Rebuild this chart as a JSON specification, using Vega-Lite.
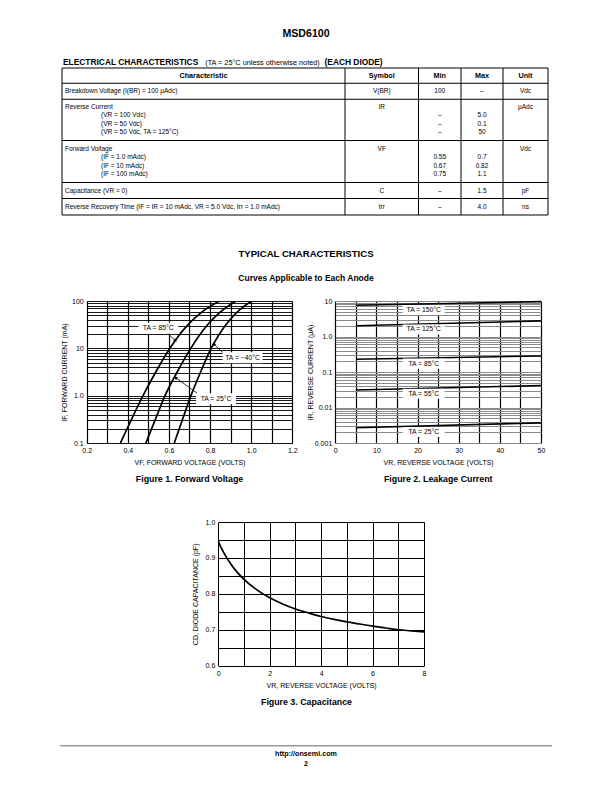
{
"$schema": "https://vega.github.io/schema/vega-lite/v6.json",
"autosize": {"type": "none"},
"padding": {"left": 0, "top": 0, "right": 612, "bottom": 792},
"background": "white",
"config": {
  "view": {"stroke": null},
  "font": "Liberation Sans",
  "text": {"color": "black", "font": "Liberation Sans"},
  "axis": {
    "domain": false, "ticks": false,
    "labelFont": "Liberation Sans Narrow, Arial Narrow, Liberation Sans, sans-serif", "labelFontSize": 7, "labelColor": "black",
    "titleFont": "Liberation Sans Narrow, Arial Narrow, Liberation Sans, sans-serif", "titleFontSize": 7, "titleFontWeight": "normal", "titleColor": "black",
    "gridOpacity": 1, "labelOverlap": false, "labelFlush": false, "labelBound": false,
    "labelPadding": 3.5, "titlePadding": 5
  }
},
"datasets": {
  "table": [
    {"col": "Characteristic", "kind": "head", "line": 0.93, "text": "Characteristic"},
    {"col": "Symbol", "kind": "head", "line": 0.93, "text": "Symbol"},
    {"col": "Min", "kind": "head", "line": 0.93, "text": "Min"},
    {"col": "Max", "kind": "head", "line": 0.93, "text": "Max"},
    {"col": "Unit", "kind": "head", "line": 0.93, "text": "Unit"},
    {"col": "Characteristic", "kind": "main", "line": 2.85, "text": "Breakdown Voltage (I(BR) = 100 μAdc)"},
    {"col": "Symbol", "kind": "main", "line": 2.85, "text": "V(BR)"},
    {"col": "Min", "kind": "main", "line": 2.85, "text": "100"},
    {"col": "Max", "kind": "main", "line": 2.85, "text": "–"},
    {"col": "Unit", "kind": "main", "line": 2.85, "text": "Vdc"},
    {"col": "Characteristic", "kind": "main", "line": 4.77, "text": "Reverse Current"},
    {"col": "Characteristic", "kind": "sub", "line": 5.8, "text": "(VR = 100 Vdc)"},
    {"col": "Characteristic", "kind": "sub", "line": 6.8, "text": "(VR = 50 Vdc)"},
    {"col": "Characteristic", "kind": "sub", "line": 7.8, "text": "(VR = 50 Vdc, TA = 125°C)"},
    {"col": "Symbol", "kind": "main", "line": 4.77, "text": "IR"},
    {"col": "Min", "kind": "main", "line": 5.8, "text": "–"},
    {"col": "Min", "kind": "main", "line": 6.8, "text": "–"},
    {"col": "Min", "kind": "main", "line": 7.8, "text": "–"},
    {"col": "Max", "kind": "main", "line": 5.8, "text": "5.0"},
    {"col": "Max", "kind": "main", "line": 6.8, "text": "0.1"},
    {"col": "Max", "kind": "main", "line": 7.8, "text": "50"},
    {"col": "Unit", "kind": "main", "line": 4.77, "text": "μAdc"},
    {"col": "Characteristic", "kind": "main", "line": 9.91, "text": "Forward Voltage"},
    {"col": "Characteristic", "kind": "sub", "line": 10.95, "text": "(IF = 1.0 mAdc)"},
    {"col": "Characteristic", "kind": "sub", "line": 11.95, "text": "(IF = 10 mAdc)"},
    {"col": "Characteristic", "kind": "sub", "line": 12.95, "text": "(IF = 100 mAdc)"},
    {"col": "Symbol", "kind": "main", "line": 9.91, "text": "VF"},
    {"col": "Min", "kind": "main", "line": 10.95, "text": "0.55"},
    {"col": "Min", "kind": "main", "line": 11.95, "text": "0.67"},
    {"col": "Min", "kind": "main", "line": 12.95, "text": "0.75"},
    {"col": "Max", "kind": "main", "line": 10.95, "text": "0.7"},
    {"col": "Max", "kind": "main", "line": 11.95, "text": "0.82"},
    {"col": "Max", "kind": "main", "line": 12.95, "text": "1.1"},
    {"col": "Unit", "kind": "main", "line": 9.91, "text": "Vdc"},
    {"col": "Characteristic", "kind": "main", "line": 15.02, "text": "Capacitance (VR = 0)"},
    {"col": "Symbol", "kind": "main", "line": 15.02, "text": "C"},
    {"col": "Min", "kind": "main", "line": 15.02, "text": "–"},
    {"col": "Max", "kind": "main", "line": 15.02, "text": "1.5"},
    {"col": "Unit", "kind": "main", "line": 15.02, "text": "pF"},
    {"col": "Characteristic", "kind": "main", "line": 17.0, "text": "Reverse Recovery Time (IF = IR = 10 mAdc, VR = 5.0 Vdc, Irr = 1.0 mAdc)"},
    {"col": "Symbol", "kind": "main", "line": 17.0, "text": "trr"},
    {"col": "Min", "kind": "main", "line": 17.0, "text": "–"},
    {"col": "Max", "kind": "main", "line": 17.0, "text": "4.0"},
    {"col": "Unit", "kind": "main", "line": 17.0, "text": "ns"}
  ],
  "rowlines": [{"line": 0}, {"line": 1.87}, {"line": 3.83}, {"line": 8.88}, {"line": 14.02}, {"line": 15.98}, {"line": 18}],
  "fig1": [
    {"temp": "85", "v": 0.364, "i": 0.1}, {"temp": "85", "v": 0.418, "i": 0.316}, {"temp": "85", "v": 0.474, "i": 1}, {"temp": "85", "v": 0.536, "i": 3.16}, {"temp": "85", "v": 0.605, "i": 10}, {"temp": "85", "v": 0.645, "i": 17.8}, {"temp": "85", "v": 0.693, "i": 31.6}, {"temp": "85", "v": 0.755, "i": 56.2}, {"temp": "85", "v": 0.845, "i": 100},
    {"temp": "25", "v": 0.488, "i": 0.1}, {"temp": "25", "v": 0.534, "i": 0.316}, {"temp": "25", "v": 0.581, "i": 1}, {"temp": "25", "v": 0.64, "i": 3.16}, {"temp": "25", "v": 0.706, "i": 10}, {"temp": "25", "v": 0.744, "i": 17.8}, {"temp": "25", "v": 0.788, "i": 31.6}, {"temp": "25", "v": 0.845, "i": 56.2}, {"temp": "25", "v": 0.926, "i": 100},
    {"temp": "-40", "v": 0.626, "i": 0.1}, {"temp": "-40", "v": 0.666, "i": 0.316}, {"temp": "-40", "v": 0.707, "i": 1}, {"temp": "-40", "v": 0.754, "i": 3.16}, {"temp": "-40", "v": 0.805, "i": 10}, {"temp": "-40", "v": 0.838, "i": 17.8}, {"temp": "-40", "v": 0.877, "i": 31.6}, {"temp": "-40", "v": 0.928, "i": 56.2}, {"temp": "-40", "v": 1.002, "i": 100}
  ],
  "fig1labels": [
    {"label": "TA = 85°C", "v": 0.548, "i": 26.7},
    {"label": "TA = −40°C", "v": 0.958, "i": 6.3},
    {"label": "TA = 25°C", "v": 0.829, "i": 0.865}
  ],
  "fig1arrows": [
    {"arrow": "85", "end": "tail", "v": 0.592, "i": 21}, {"arrow": "85", "end": "tip", "v": 0.632, "i": 14.5},
    {"arrow": "-40", "end": "tail", "v": 0.864, "i": 8.0}, {"arrow": "-40", "end": "tip", "v": 0.818, "i": 12.3},
    {"arrow": "25", "end": "tail", "v": 0.738, "i": 1.12}, {"arrow": "25", "end": "tip", "v": 0.633, "i": 2.4}
  ],
  "fig2": [
    {"temp": "150", "v": 5, "i": 7.6}, {"temp": "150", "v": 50, "i": 9.6},
    {"temp": "125", "v": 5, "i": 2.0}, {"temp": "125", "v": 50, "i": 2.75},
    {"temp": "85", "v": 5, "i": 0.228}, {"temp": "85", "v": 50, "i": 0.283},
    {"temp": "55", "v": 5, "i": 0.031}, {"temp": "55", "v": 50, "i": 0.0415},
    {"temp": "25", "v": 5, "i": 0.0027}, {"temp": "25", "v": 50, "i": 0.0037}
  ],
  "fig2labels": [
    {"label": "TA = 150°C", "v": 21.5, "i": 5.6},
    {"label": "TA = 125°C", "v": 21.5, "i": 1.58},
    {"label": "TA = 85°C", "v": 21.5, "i": 0.172},
    {"label": "TA = 55°C", "v": 21.5, "i": 0.0245},
    {"label": "TA = 25°C", "v": 21.5, "i": 0.00204}
  ],
  "fig3": [
    {"v": 0, "c": 0.946}, {"v": 0.1, "c": 0.93}, {"v": 0.25, "c": 0.91}, {"v": 0.5, "c": 0.882}, {"v": 0.75, "c": 0.859}, {"v": 1, "c": 0.84}, {"v": 1.5, "c": 0.811}, {"v": 2, "c": 0.789}, {"v": 2.5, "c": 0.772}, {"v": 3, "c": 0.758}, {"v": 3.5, "c": 0.747}, {"v": 4, "c": 0.737}, {"v": 4.5, "c": 0.729}, {"v": 5, "c": 0.722}, {"v": 5.5, "c": 0.716}, {"v": 6, "c": 0.71}, {"v": 6.5, "c": 0.705}, {"v": 7, "c": 0.7}, {"v": 7.5, "c": 0.697}, {"v": 8, "c": 0.694}
  ]
},
"bounds": "flush",
"spacing": 0,
"vconcat": [
  {"width": 612, "height": 68,
   "layer": [
     {"data": {"values": [{"t": "MSD6100"}]}, "mark": {"type": "text", "fontSize": 10.6, "fontWeight": "bold", "dy": 0}, "encoding": {"text": {"field": "t"}}},
     {"data": {"values": [{"t": "ELECTRICAL CHARACTERISTICS"}]}, "mark": {"type": "text", "fontSize": 8.4, "fontWeight": "bold", "align": "left", "baseline": "alphabetic", "dy": 30.7}, "encoding": {"x": {"datum": 0, "type": "quantitative", "scale": {"domain": [0, 1], "range": [63, 548]}, "axis": null}, "text": {"field": "t"}}},
     {"data": {"values": [{"t": "(TA = 25°C unless otherwise noted)"}]}, "mark": {"type": "text", "fontSize": 7.3, "align": "left", "baseline": "alphabetic", "dx": 142.2, "dy": 30.7}, "encoding": {"x": {"datum": 0, "type": "quantitative", "axis": null}, "text": {"field": "t"}}},
     {"data": {"values": [{"t": "(EACH DIODE)"}]}, "mark": {"type": "text", "fontSize": 8.4, "fontWeight": "bold", "align": "left", "baseline": "alphabetic", "dx": 261.5, "dy": 30.7}, "encoding": {"x": {"datum": 0, "type": "quantitative", "axis": null}, "text": {"field": "t"}}}
   ]},

  {"width": 612, "height": 147,
   "resolve": {"scale": {"x": "independent"}},
   "layer": [
     {"data": {"name": "rowlines"}, "mark": {"type": "rule", "color": "black", "strokeWidth": 1},
      "encoding": {"x": {"datum": 0, "type": "quantitative", "scale": {"domain": [0, 1], "range": [62, 548]}, "axis": null}, "x2": {"datum": 1},
                   "y": {"field": "line", "type": "quantitative", "scale": {"domain": [0, 18], "reverse": true, "nice": false, "zero": false}, "axis": null}}},
     {"encoding": {"x": {"datum": 0, "type": "quantitative", "scale": {"domain": [0, 1], "range": [62, 345]}, "axis": null}},
      "layer": [
        {"data": {"values": [{}]}, "mark": {"type": "rule", "color": "black", "strokeWidth": 1}, "encoding": {"y": {"datum": 0, "type": "quantitative", "axis": null}, "y2": {"datum": 18}}},
        {"data": {"name": "table"}, "transform": [{"filter": "datum.col == 'Characteristic' && datum.kind == 'head'"}], "mark": {"type": "text", "fontSize": 7.2, "fontWeight": "bold"}, "encoding": {"x": {"datum": 0.5, "type": "quantitative", "axis": null}, "y": {"field": "line", "type": "quantitative", "axis": null}, "text": {"field": "text"}}},
        {"data": {"name": "table"}, "transform": [{"filter": "datum.col == 'Characteristic' && datum.kind == 'main'"}], "mark": {"type": "text", "fontSize": 6.5, "align": "left", "dx": 3}, "encoding": {"y": {"field": "line", "type": "quantitative", "axis": null}, "text": {"field": "text"}}},
        {"data": {"name": "table"}, "transform": [{"filter": "datum.col == 'Characteristic' && datum.kind == 'sub'"}], "mark": {"type": "text", "fontSize": 6.5, "align": "left", "dx": 39}, "encoding": {"y": {"field": "line", "type": "quantitative", "axis": null}, "text": {"field": "text"}}}
      ]},
     {"encoding": {"x": {"datum": 0, "type": "quantitative", "scale": {"domain": [0, 1], "range": [345, 418.5]}, "axis": null}},
      "layer": [
        {"data": {"values": [{}]}, "mark": {"type": "rule", "color": "black", "strokeWidth": 1}, "encoding": {"y": {"datum": 0, "type": "quantitative", "axis": null}, "y2": {"datum": 18}}},
        {"data": {"name": "table"}, "transform": [{"filter": "datum.col == 'Symbol' && datum.kind == 'head'"}], "mark": {"type": "text", "fontSize": 7.2, "fontWeight": "bold"}, "encoding": {"x": {"datum": 0.5, "type": "quantitative", "axis": null}, "y": {"field": "line", "type": "quantitative", "axis": null}, "text": {"field": "text"}}},
        {"data": {"name": "table"}, "transform": [{"filter": "datum.col == 'Symbol' && datum.kind != 'head'"}], "mark": {"type": "text", "fontSize": 6.5}, "encoding": {"x": {"datum": 0.5, "type": "quantitative", "axis": null}, "y": {"field": "line", "type": "quantitative", "axis": null}, "text": {"field": "text"}}}
      ]},
     {"encoding": {"x": {"datum": 0, "type": "quantitative", "scale": {"domain": [0, 1], "range": [418.5, 461]}, "axis": null}},
      "layer": [
        {"data": {"values": [{}]}, "mark": {"type": "rule", "color": "black", "strokeWidth": 1}, "encoding": {"y": {"datum": 0, "type": "quantitative", "axis": null}, "y2": {"datum": 18}}},
        {"data": {"name": "table"}, "transform": [{"filter": "datum.col == 'Min' && datum.kind == 'head'"}], "mark": {"type": "text", "fontSize": 7.2, "fontWeight": "bold"}, "encoding": {"x": {"datum": 0.5, "type": "quantitative", "axis": null}, "y": {"field": "line", "type": "quantitative", "axis": null}, "text": {"field": "text"}}},
        {"data": {"name": "table"}, "transform": [{"filter": "datum.col == 'Min' && datum.kind != 'head'"}], "mark": {"type": "text", "fontSize": 6.5}, "encoding": {"x": {"datum": 0.5, "type": "quantitative", "axis": null}, "y": {"field": "line", "type": "quantitative", "axis": null}, "text": {"field": "text"}}}
      ]},
     {"encoding": {"x": {"datum": 0, "type": "quantitative", "scale": {"domain": [0, 1], "range": [461, 503]}, "axis": null}},
      "layer": [
        {"data": {"values": [{}]}, "mark": {"type": "rule", "color": "black", "strokeWidth": 1}, "encoding": {"y": {"datum": 0, "type": "quantitative", "axis": null}, "y2": {"datum": 18}}},
        {"data": {"name": "table"}, "transform": [{"filter": "datum.col == 'Max' && datum.kind == 'head'"}], "mark": {"type": "text", "fontSize": 7.2, "fontWeight": "bold"}, "encoding": {"x": {"datum": 0.5, "type": "quantitative", "axis": null}, "y": {"field": "line", "type": "quantitative", "axis": null}, "text": {"field": "text"}}},
        {"data": {"name": "table"}, "transform": [{"filter": "datum.col == 'Max' && datum.kind != 'head'"}], "mark": {"type": "text", "fontSize": 6.5}, "encoding": {"x": {"datum": 0.5, "type": "quantitative", "axis": null}, "y": {"field": "line", "type": "quantitative", "axis": null}, "text": {"field": "text"}}}
      ]},
     {"encoding": {"x": {"datum": 0, "type": "quantitative", "scale": {"domain": [0, 1], "range": [503, 548]}, "axis": null}},
      "layer": [
        {"data": {"values": [{}]}, "mark": {"type": "rule", "color": "black", "strokeWidth": 1}, "encoding": {"y": {"datum": 0, "type": "quantitative", "axis": null}, "y2": {"datum": 18}}},
        {"data": {"values": [{}]}, "mark": {"type": "rule", "color": "black", "strokeWidth": 1}, "encoding": {"x": {"datum": 1, "type": "quantitative", "axis": null}, "y": {"datum": 0, "type": "quantitative", "axis": null}, "y2": {"datum": 18}}},
        {"data": {"name": "table"}, "transform": [{"filter": "datum.col == 'Unit' && datum.kind == 'head'"}], "mark": {"type": "text", "fontSize": 7.2, "fontWeight": "bold"}, "encoding": {"x": {"datum": 0.5, "type": "quantitative", "axis": null}, "y": {"field": "line", "type": "quantitative", "axis": null}, "text": {"field": "text"}}},
        {"data": {"name": "table"}, "transform": [{"filter": "datum.col == 'Unit' && datum.kind != 'head'"}], "mark": {"type": "text", "fontSize": 6.5}, "encoding": {"x": {"datum": 0.5, "type": "quantitative", "axis": null}, "y": {"field": "line", "type": "quantitative", "axis": null}, "text": {"field": "text"}}}
      ]}
   ]},

  {"width": 612, "height": 86,
   "layer": [
     {"data": {"values": [{"t": "TYPICAL CHARACTERISTICS"}]}, "mark": {"type": "text", "fontSize": 9.6, "fontWeight": "bold", "dy": -4}, "encoding": {"text": {"field": "t"}}},
     {"data": {"values": [{"t": "Curves Applicable to Each Anode"}]}, "mark": {"type": "text", "fontSize": 8.5, "fontWeight": "bold", "dy": 19.7}, "encoding": {"text": {"field": "t"}}}
   ]},

  {"width": 612, "height": 142,
   "resolve": {"scale": {"x": "independent", "y": "independent"}, "axis": {"x": "independent", "y": "independent"}},
   "layer": [
     {"encoding": {
        "x": {"field": "v", "type": "quantitative", "scale": {"domain": [0.2, 1.2], "range": [86.7, 292.3], "nice": false, "zero": false},
              "axis": {"orient": "bottom", "values": [0.2, 0.3, 0.4, 0.5, 0.6, 0.7, 0.8, 0.9, 1.0, 1.1, 1.2], "labelExpr": "round(datum.value*10) % 2 == 0 ? format(datum.value, '.1f') : ''", "grid": true, "gridColor": "black", "gridWidth": 1.2, "title": "VF, FORWARD VOLTAGE (VOLTS)"}},
        "y": {"field": "i", "type": "quantitative", "scale": {"type": "log", "domain": [0.1, 100], "nice": false},
              "axis": {"orient": "left", "offset": -86.7, "values": [0.1, 0.2, 0.3, 0.4, 0.5, 0.6, 0.7, 0.8, 0.9, 1, 2, 3, 4, 5, 6, 7, 8, 9, 10, 20, 30, 40, 50, 60, 70, 80, 90, 100], "labelExpr": "datum.value == 0.1 ? '0.1' : datum.value == 1 ? '1.0' : datum.value == 10 ? '10' : datum.value == 100 ? '100' : ''", "grid": true, "gridColor": "black", "gridWidth": 0.9, "title": "IF, FORWARD CURRENT (mA)", "titlePadding": 4}}
      },
      "layer": [
        {"data": {"name": "fig1"}, "mark": {"type": "line", "color": "black", "strokeWidth": 1.7, "interpolate": "monotone", "clip": true}, "encoding": {"detail": {"field": "temp"}}},
        {"data": {"name": "fig1arrows"}, "mark": {"type": "line", "color": "black", "strokeWidth": 0.8}, "encoding": {"detail": {"field": "arrow"}}},
        {"data": {"name": "fig1arrows"}, "transform": [{"filter": "datum.arrow == '85' && datum.end == 'tip'"}], "mark": {"type": "point", "shape": "triangle-up", "angle": 131, "size": 14, "filled": true, "color": "black", "opacity": 1}},
        {"data": {"name": "fig1arrows"}, "transform": [{"filter": "datum.arrow == '-40' && datum.end == 'tip'"}], "mark": {"type": "point", "shape": "triangle-up", "angle": 315, "size": 14, "filled": true, "color": "black", "opacity": 1}},
        {"data": {"name": "fig1arrows"}, "transform": [{"filter": "datum.arrow == '25' && datum.end == 'tip'"}], "mark": {"type": "point", "shape": "triangle-up", "angle": 305, "size": 14, "filled": true, "color": "black", "opacity": 1}},
        {"data": {"name": "fig1labels"}, "mark": {"type": "point", "shape": "M-1,-0.275H1V0.275H-1Z", "size": 1600, "filled": true, "color": "white", "opacity": 1}},
        {"data": {"name": "fig1labels"}, "mark": {"type": "text", "font": "Liberation Sans Narrow, Arial Narrow, Liberation Sans, sans-serif", "fontSize": 6.8}, "encoding": {"text": {"field": "label"}}},
        {"data": {"values": [{}]}, "mark": {"type": "rule", "color": "black", "strokeWidth": 1.5, "strokeCap": "square"}, "encoding": {"x": {"datum": 0.2}, "y": {"datum": 0.1}, "y2": {"datum": 100}}},
        {"data": {"values": [{}]}, "mark": {"type": "rule", "color": "black", "strokeWidth": 1.5, "strokeCap": "square"}, "encoding": {"x": {"datum": 1.2}, "y": {"datum": 0.1}, "y2": {"datum": 100}}},
        {"data": {"values": [{}]}, "mark": {"type": "rule", "color": "black", "strokeWidth": 1.5, "strokeCap": "square"}, "encoding": {"x": {"datum": 0.2}, "x2": {"datum": 1.2}, "y": {"datum": 0.1}}},
        {"data": {"values": [{}]}, "mark": {"type": "rule", "color": "black", "strokeWidth": 1.5, "strokeCap": "square"}, "encoding": {"x": {"datum": 0.2}, "x2": {"datum": 1.2}, "y": {"datum": 100}}}
      ]},
     {"encoding": {
        "x": {"field": "v", "type": "quantitative", "scale": {"domain": [0, 50], "range": [335.3, 541], "nice": false},
              "axis": {"orient": "bottom", "values": [0, 5, 10, 15, 20, 25, 30, 35, 40, 45, 50], "labelExpr": "datum.value % 10 == 0 ? format(datum.value, 'd') : ''", "grid": true, "gridColor": "black", "gridWidth": 1.2, "title": "VR, REVERSE VOLTAGE (VOLTS)"}},
        "y": {"field": "i", "type": "quantitative", "scale": {"type": "log", "domain": [0.001, 10], "nice": false},
              "axis": {"orient": "left", "offset": -335.3, "values": [0.001, 0.002, 0.003, 0.004, 0.005, 0.006, 0.007, 0.008, 0.009, 0.01, 0.02, 0.03, 0.04, 0.05, 0.06, 0.07, 0.08, 0.09, 0.1, 0.2, 0.3, 0.4, 0.5, 0.6, 0.7, 0.8, 0.9, 1, 2, 3, 4, 5, 6, 7, 8, 9, 10], "labelExpr": "datum.value == 0.001 ? '0.001' : datum.value == 0.01 ? '0.01' : datum.value == 0.1 ? '0.1' : datum.value == 1 ? '1.0' : datum.value == 10 ? '10' : ''", "grid": true, "gridColor": "#8a8a8a", "gridWidth": 1, "title": "IR, REVERSE CURRENT (μA)", "titlePadding": 1}}
      },
      "layer": [
        {"data": {"name": "fig2"}, "mark": {"type": "line", "color": "black", "strokeWidth": 1.6}, "encoding": {"detail": {"field": "temp"}}},
        {"data": {"name": "fig2labels"}, "mark": {"type": "point", "shape": "M-1,-0.24H1V0.24H-1Z", "size": 1764, "filled": true, "color": "white", "opacity": 1}},
        {"data": {"name": "fig2labels"}, "mark": {"type": "text", "font": "Liberation Sans Narrow, Arial Narrow, Liberation Sans, sans-serif", "fontSize": 6.8}, "encoding": {"text": {"field": "label"}}},
        {"data": {"values": [{}]}, "mark": {"type": "rule", "color": "black", "strokeWidth": 1.5, "strokeCap": "square"}, "encoding": {"x": {"datum": 0}, "y": {"datum": 0.001}, "y2": {"datum": 10}}},
        {"data": {"values": [{}]}, "mark": {"type": "rule", "color": "black", "strokeWidth": 1.5, "strokeCap": "square"}, "encoding": {"x": {"datum": 50}, "y": {"datum": 0.001}, "y2": {"datum": 10}}},
        {"data": {"values": [{}]}, "mark": {"type": "rule", "color": "black", "strokeWidth": 1.5, "strokeCap": "square"}, "encoding": {"x": {"datum": 0}, "x2": {"datum": 50}, "y": {"datum": 0.001}}},
        {"data": {"values": [{}]}, "mark": {"type": "rule", "color": "black", "strokeWidth": 1.5, "strokeCap": "square"}, "encoding": {"x": {"datum": 0}, "x2": {"datum": 50}, "y": {"datum": 10}}}
      ]}
   ]},

  {"width": 612, "height": 79,
   "layer": [
     {"data": {"values": [{"t": "Figure 1. Forward Voltage"}]}, "mark": {"type": "text", "fontSize": 8.8, "fontWeight": "bold", "dx": -116.5, "dy": -3.5}, "encoding": {"text": {"field": "t"}}},
     {"data": {"values": [{"t": "Figure 2. Leakage Current"}]}, "mark": {"type": "text", "fontSize": 8.8, "fontWeight": "bold", "dx": 132.2, "dy": -3.5}, "encoding": {"text": {"field": "t"}}}
   ]},

  {"width": 612, "height": 143.7,
   "encoding": {
     "x": {"field": "v", "type": "quantitative", "scale": {"domain": [0, 8], "range": [218.3, 424], "nice": false},
           "axis": {"orient": "bottom", "values": [0, 1, 2, 3, 4, 5, 6, 7, 8], "labelExpr": "datum.value % 2 == 0 ? format(datum.value, 'd') : ''", "grid": true, "gridColor": "black", "gridWidth": 1, "title": "VR, REVERSE VOLTAGE (VOLTS)"}},
     "y": {"field": "c", "type": "quantitative", "scale": {"domain": [0.6, 1.0], "nice": false, "zero": false},
           "axis": {"orient": "left", "offset": -218.3, "values": [0.6, 0.65, 0.7, 0.75, 0.8, 0.85, 0.9, 0.95, 1.0], "labelExpr": "round(datum.value*100) % 10 == 0 ? format(datum.value, '.1f') : ''", "grid": true, "gridColor": "black", "gridWidth": 1, "title": "CD, DIODE CAPACITANCE (pF)", "titlePadding": 7}}
   },
   "layer": [
     {"data": {"name": "fig3"}, "mark": {"type": "line", "color": "black", "strokeWidth": 1.7, "interpolate": "monotone"}},
     {"data": {"values": [{}]}, "mark": {"type": "rule", "color": "black", "strokeWidth": 1.5, "strokeCap": "square"}, "encoding": {"x": {"datum": 0}, "y": {"datum": 0.6}, "y2": {"datum": 1.0}}},
     {"data": {"values": [{}]}, "mark": {"type": "rule", "color": "black", "strokeWidth": 1.5, "strokeCap": "square"}, "encoding": {"x": {"datum": 8}, "y": {"datum": 0.6}, "y2": {"datum": 1.0}}},
     {"data": {"values": [{}]}, "mark": {"type": "rule", "color": "black", "strokeWidth": 1.5, "strokeCap": "square"}, "encoding": {"x": {"datum": 0}, "x2": {"datum": 8}, "y": {"datum": 0.6}}},
     {"data": {"values": [{}]}, "mark": {"type": "rule", "color": "black", "strokeWidth": 1.5, "strokeCap": "square"}, "encoding": {"x": {"datum": 0}, "x2": {"datum": 8}, "y": {"datum": 1.0}}}
   ]},

  {"width": 612, "height": 78.3,
   "layer": [
     {"data": {"values": [{"t": "Figure 3. Capacitance"}]}, "mark": {"type": "text", "fontSize": 8.8, "fontWeight": "bold", "dx": 0.5, "dy": -2.85}, "encoding": {"text": {"field": "t"}}}
   ]},

  {"width": 612, "height": 1.5,
   "data": {"values": [{}]},
   "mark": {"type": "rule", "color": "#9a9a9a", "strokeWidth": 1.5},
   "encoding": {"x": {"datum": 0, "type": "quantitative", "scale": {"domain": [0, 1], "range": [60, 552]}, "axis": null}, "x2": {"datum": 1}}},

  {"width": 612, "height": 12,
   "layer": [
     {"data": {"values": [{"t": "http://onsemi.com"}]}, "mark": {"type": "text", "fontSize": 7.2, "fontWeight": "bold", "dy": 0.5}, "encoding": {"text": {"field": "t"}}},
     {"data": {"values": [{"t": "2"}]}, "mark": {"type": "text", "fontSize": 7.2, "fontWeight": "bold", "dy": 10.5}, "encoding": {"text": {"field": "t"}}}
   ]}
]
}
